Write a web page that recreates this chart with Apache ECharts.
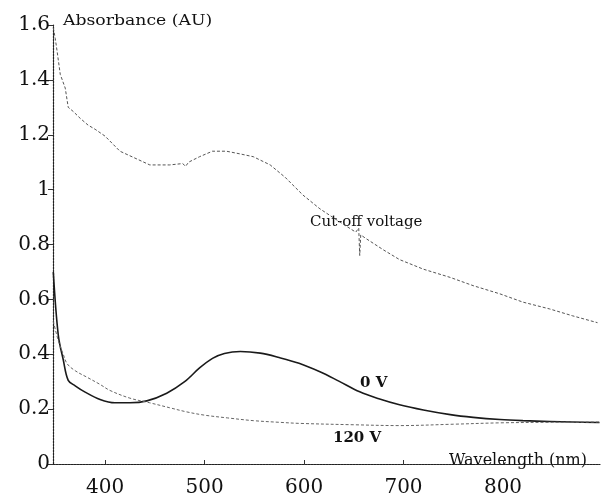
<!DOCTYPE html>
<html><head><meta charset="utf-8">
<script src="https://cdn.jsdelivr.net/npm/echarts@6/dist/echarts.min.js"></script>
<style>html,body{margin:0;padding:0;background:#fff}#c{width:601px;height:498px}</style>
</head><body><div id="c"></div>
<script>
// Cut-off voltage spectrum
const cutoffWl  = [348,350,352,355,360,363,368,375,383,390,400,415,430,445,465,478,481,484,495,508,522,536,549,566,581,599,616,639,652,655,656,657,663,680,696,720,747,770,797,820,847,870,895];
const cutoffAbs = [1.59,1.55,1.50,1.42,1.37,1.30,1.285,1.26,1.235,1.22,1.195,1.14,1.115,1.09,1.09,1.095,1.085,1.10,1.12,1.14,1.14,1.13,1.12,1.09,1.045,0.98,0.93,0.875,0.845,0.86,0.76,0.835,0.82,0.78,0.745,0.71,0.68,0.65,0.62,0.59,0.565,0.54,0.515];
// 0 V spectrum
const v0Wl  = [348,353,358,363,370,380,395,410,425,442,462,480,495,508,520,536,556,575,595,616,635,656,676,696,720,747,770,797,820,847,870,897];
const v0Abs = [0.70,0.47,0.38,0.305,0.285,0.262,0.235,0.223,0.223,0.23,0.258,0.30,0.35,0.385,0.403,0.41,0.404,0.388,0.367,0.336,0.302,0.263,0.237,0.216,0.197,0.18,0.17,0.162,0.158,0.155,0.153,0.151];
// 120 V spectrum
const v120Wl  = [348,353,358,362,370,382,395,405,425,445,465,482,500,523,549,575,596,650,696,750,797,850,897];
const v120Abs = [0.52,0.45,0.40,0.365,0.34,0.316,0.29,0.268,0.24,0.223,0.205,0.19,0.178,0.168,0.158,0.152,0.148,0.143,0.14,0.145,0.15,0.152,0.153];
// Axis ticks
const xTicks = [400,500,600,700,800];
const yMin = 0, yMax = 1.6, yStep = 0.2;

const zip = (a,b)=>a.map((v,i)=>[v,b[i]]);
const FONT = 'DejaVu Serif';
const chart = echarts.init(document.getElementById('c'), null, {renderer:'canvas'});
chart.setOption({
  animation:false,
  backgroundColor:'#fff',
  grid:{left:53,right:1,top:25,bottom:28,containLabel:false},
  xAxis:{
    type:'value', min:347.7, max:897.5,
    splitLine:{show:false},
    axisLine:{show:true,lineStyle:{color:'#222',width:1.2,type:[2,1]}},
    axisTick:{show:true,inside:true,length:4,customValues:xTicks,lineStyle:{color:'#333'}},
    axisLabel:{customValues:xTicks,margin:14,fontSize:20,color:'#111',fontFamily:FONT}
  },
  yAxis:{
    type:'value', min:yMin, max:yMax, interval:yStep,
    splitLine:{show:false},
    axisLine:{show:true,lineStyle:{color:'#222',width:1.2,type:[2,1]}},
    axisTick:{show:true,inside:false,length:5,lineStyle:{color:'#333'}},
    axisLabel:{margin:3,fontSize:20,color:'#111',fontFamily:FONT,
      formatter:v=>String(Math.round(v*10)/10)}
  },
  series:[
    {type:'line',name:'Cut-off voltage',data:zip(cutoffWl,cutoffAbs),showSymbol:false,smooth:false,
     lineStyle:{color:'#555',width:1,type:[3,2]}},
    {type:'line',name:'0 V',data:zip(v0Wl,v0Abs),showSymbol:false,smooth:0.35,
     lineStyle:{color:'#1a1a1a',width:1.6}},
    {type:'line',name:'120 V',data:zip(v120Wl,v120Abs),showSymbol:false,smooth:0.35,
     lineStyle:{color:'#666',width:1,type:[3,2]}}
  ],
  graphic:[
    {type:'text',left:63,top:14,scaleX:1.15,style:{text:'Absorbance (AU)',font:'15px "DejaVu Serif"',fill:'#111'}},
    {type:'text',left:449,top:453,scaleX:1.0,style:{text:'Wavelength (nm)',font:'16px "DejaVu Serif"',fill:'#111'}},
    {type:'text',left:310,top:215,style:{text:'Cut-off voltage',font:'15px "DejaVu Serif"',fill:'#111'}},
    {type:'text',left:360,top:376,style:{text:'0 V',font:'bold 15px "DejaVu Serif"',fill:'#111'}},
    {type:'text',left:333,top:431,style:{text:'120 V',font:'bold 15px "DejaVu Serif"',fill:'#111'}}
  ]
});
</script></body></html>
